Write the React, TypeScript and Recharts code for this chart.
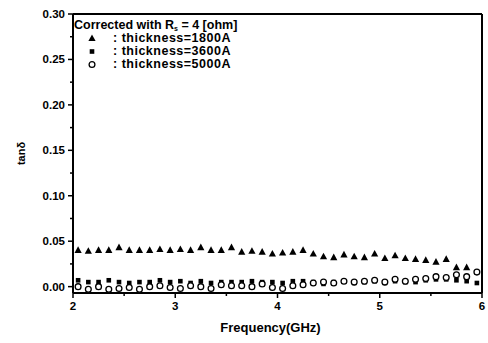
import { ScatterChart, Scatter, XAxis, YAxis, ReferenceLine } from "recharts";

// frequency points (GHz)
const freqs = [
  2.05, 2.15, 2.25, 2.35, 2.45, 2.55, 2.65, 2.75, 2.85, 2.95,
  3.05, 3.15, 3.25, 3.35, 3.45, 3.55, 3.65, 3.75, 3.85, 3.95,
  4.05, 4.15, 4.25, 4.35, 4.45, 4.55, 4.65, 4.75, 4.85, 4.95,
  5.05, 5.15, 5.25, 5.35, 5.45, 5.55, 5.65, 5.75, 5.85, 5.95,
];

const t1800 = [
  0.040, 0.039, 0.040, 0.040, 0.043, 0.040, 0.040, 0.040, 0.041, 0.040,
  0.041, 0.040, 0.043, 0.040, 0.040, 0.043, 0.038, 0.039, 0.038, 0.036,
  0.037, 0.038, 0.040, 0.036, 0.033, 0.032, 0.035, 0.033, 0.032, 0.036,
  0.031, 0.034, 0.031, 0.030, 0.029, 0.027, 0.030, 0.021, 0.021,
];

const t3600 = [
  0.007, 0.005, 0.005, 0.007, 0.005, 0.004, 0.005, 0.005, 0.007, 0.005,
  0.006, 0.004, 0.006, 0.004, 0.005, 0.005, 0.005, 0.006, 0.005, 0.005,
  0.004, 0.006, 0.006, 0.005, 0.003, 0.005, 0.006, 0.004, 0.005, 0.006,
  0.004, 0.006, 0.005, 0.005, 0.007, 0.008, 0.008, 0.007, 0.006, 0.004,
];

const t5000 = [
  0.000, -0.003, 0.000, -0.003, -0.002, -0.001, -0.003, 0.000, 0.001, -0.001,
  -0.002, 0.001, 0.000, -0.002, 0.002, 0.001, 0.001, 0.000, 0.003, -0.001,
  -0.002, 0.001, 0.002, 0.004, 0.005, 0.004, 0.006, 0.005, 0.006, 0.007,
  0.005, 0.008, 0.006, 0.008, 0.009, 0.011, 0.010, 0.013, 0.011, 0.016,
];

const xTicks = [2, 2.5, 3, 3.5, 4, 4.5, 5, 5.5, 6];
const yTicks = [0, 0.025, 0.05, 0.075, 0.1, 0.125, 0.15, 0.175, 0.2, 0.225, 0.25, 0.275, 0.3];

const toPoints = (vals: number[]) => vals.map((v, i) => ({ f: freqs[i], v }));

const FONT = "'Liberation Sans', Arial, sans-serif";

const XTick = (props: any) => {
  const { x, y, payload } = props;
  const major = Number.isInteger(payload.value);
  return (
    <g>
      <line x1={x} y1={y} x2={x} y2={y + (major ? 5 : 3)} stroke="#000" strokeWidth={1.5} />
      {major && (
        <text x={x} y={y + 17} textAnchor="middle" fontSize={11.5} fontWeight="bold" fontFamily={FONT} fill="#000">
          {payload.value}
        </text>
      )}
    </g>
  );
};

const YTick = (props: any) => {
  const { x, y, payload } = props;
  const major = Math.round(payload.value * 1000) % 50 === 0;
  return (
    <g>
      <line x1={x} y1={y} x2={x - (major ? 5 : 3)} y2={y} stroke="#000" strokeWidth={1.5} />
      {major && (
        <text x={x - 8} y={y + 4} textAnchor="end" fontSize={11.5} fontWeight="bold" fontFamily={FONT} fill="#000">
          {payload.value.toFixed(2)}
        </text>
      )}
    </g>
  );
};

const Tri = (p: any) => (
  <polygon points={`${p.cx},${p.cy - 4} ${p.cx - 3.6},${p.cy + 2.6} ${p.cx + 3.6},${p.cy + 2.6}`} fill="#000" />
);
const Sq = (p: any) => <rect x={p.cx - 2.3} y={p.cy - 2.3} width={4.6} height={4.6} fill="#000" />;
const Circ = (p: any) => <circle cx={p.cx} cy={p.cy} r={2.9} fill="#fff" stroke="#000" strokeWidth={1.3} />;

const legendRows = [
  { label: ": thickness=1800A", Shape: Tri },
  { label: ": thickness=3600A", Shape: Sq },
  { label: ": thickness=5000A", Shape: Circ },
];

export default function App() {
  return (
    <div style={{ position: "fixed", left: 0, top: 0, width: 488, height: 343, fontFamily: FONT, background: "#fff" }}>
      <ScatterChart width={488} height={343} margin={{ top: 14, right: 6, left: 0, bottom: 8 }}>
        <XAxis
          type="number"
          dataKey="f"
          domain={[2, 6]}
          ticks={xTicks}
          interval={0}
          height={42}
          tickSize={0}
          tickMargin={0}
          tick={<XTick />}
          axisLine={{ stroke: "#000", strokeWidth: 2 }}
          label={({ viewBox }: any) => (
            <text x={viewBox.x + viewBox.width / 2 - 7} y={viewBox.y + 39} textAnchor="middle" fontSize={13} fontWeight="bold" fontFamily={FONT} fill="#000">
              Frequency(GHz)
            </text>
          )}
        />
        <YAxis
          type="number"
          dataKey="v"
          domain={[-0.007, 0.3]}
          ticks={yTicks}
          interval={0}
          width={73}
          tickSize={0}
          tickMargin={0}
          tick={<YTick />}
          axisLine={{ stroke: "#000", strokeWidth: 2 }}
          label={({ viewBox }: any) => (
            <text x={22} y={viewBox.y + viewBox.height / 2} transform={`rotate(-90 22 ${viewBox.y + viewBox.height / 2})`} textAnchor="middle" dominantBaseline="middle" fontSize={11} fontWeight="bold" fontFamily={FONT} fill="#000">
              tanδ
            </text>
          )}
        />
        <ReferenceLine y={0.3} stroke="#000" strokeWidth={2} ifOverflow="visible" />
        <ReferenceLine x={6} stroke="#000" strokeWidth={2} ifOverflow="visible" />
        <Scatter data={toPoints(t1800)} shape={<Tri />} isAnimationActive={false} />
        <Scatter data={toPoints(t3600)} shape={<Sq />} isAnimationActive={false} />
        <Scatter data={toPoints(t5000)} shape={<Circ />} isAnimationActive={false} />
      </ScatterChart>
      <div style={{ position: "absolute", left: 74, top: 18, fontWeight: "bold", color: "#000" }}>
        <div style={{ fontSize: 12.5, height: 14, lineHeight: "14px", whiteSpace: "nowrap" }}>
          Corrected with R
          <span style={{ fontSize: 7, position: "relative", top: 2 }}>s</span> = 4 [ohm]
        </div>
        {legendRows.map(({ label, Shape }) => (
          <div key={label} style={{ display: "flex", alignItems: "center", height: 13, lineHeight: "13px", fontSize: 12.5, whiteSpace: "nowrap" }}>
            <svg width={39} height={13} style={{ flex: "none" }}>
              <Shape cx={18} cy={6.5} />
            </svg>
            <span style={{ letterSpacing: 0.5 }}>{label}</span>
          </div>
        ))}
      </div>
    </div>
  );
}
